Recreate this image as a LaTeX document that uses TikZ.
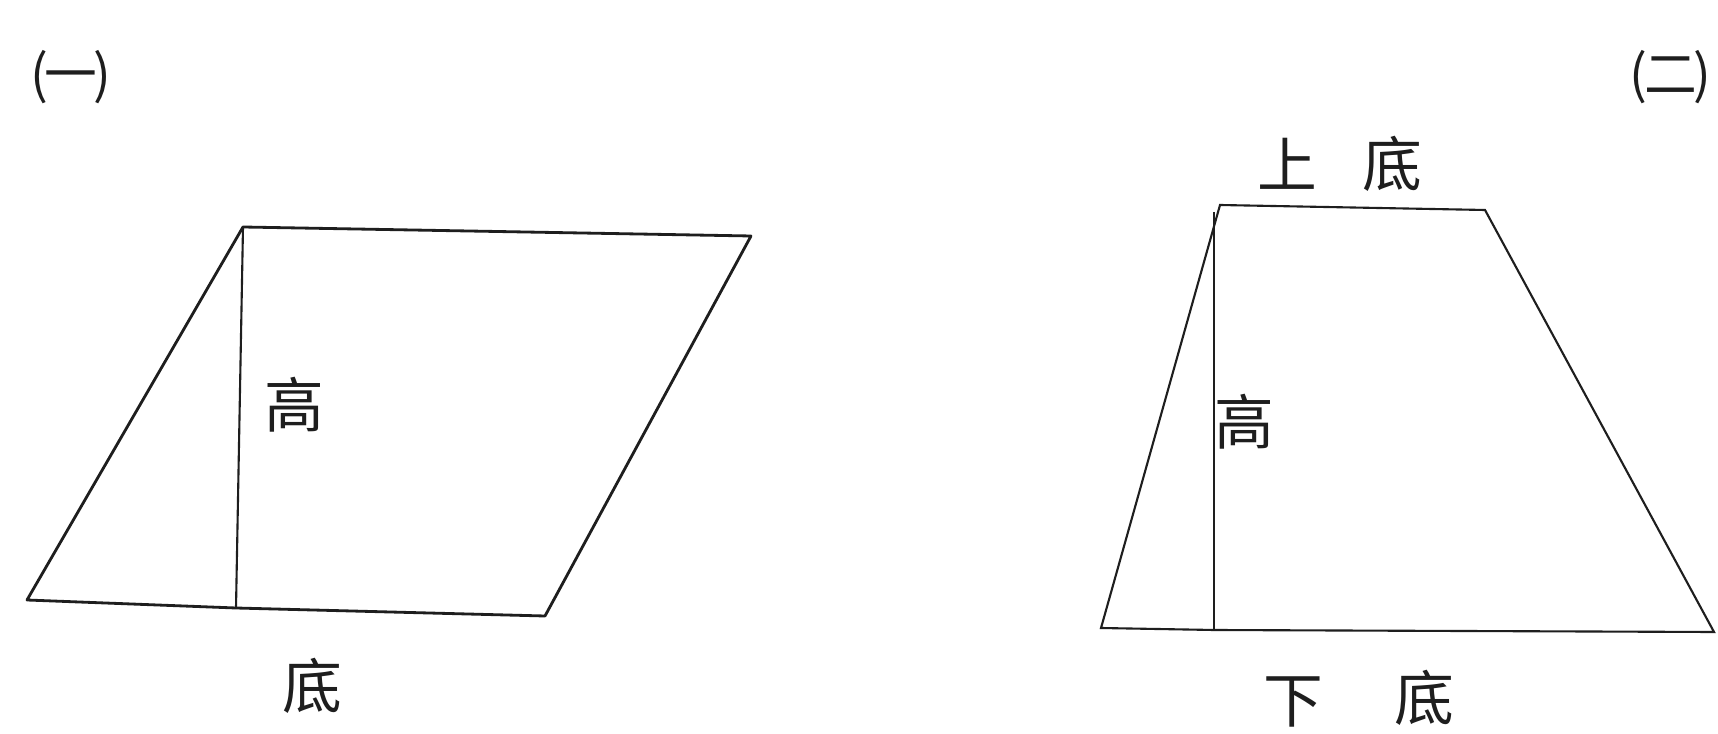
\documentclass[tikz,border=0pt]{standalone}
\usepackage{fontspec}
\usepackage{xcolor}
\usetikzlibrary{positioning}
\newfontfamily\cjk{Noto Sans CJK SC}
\definecolor{ink}{RGB}{30,30,30}

\begin{document}
\begin{tikzpicture}[
    edge/.style={draw=ink, line width=0.8pt, line join=round},
    thin/.style={draw=ink, line width=0.6pt},
    lab/.style={font=\cjk\fontsize{17}{20}\selectfont, text=ink, inner sep=0pt},
    num/.style={font=\cjk\fontsize{15}{18}\selectfont, text=ink, inner sep=0pt}
  ]
  \useasboundingbox (0,0) rectangle (17.18,-7.34);
  \fill[white] (0,0) rectangle (17.18,-7.34);
  \coordinate (pA) at (0.27,-6.00);
  \coordinate (pB) at (5.45,-6.16);
  \coordinate (pC) at (7.51,-2.36);
  \coordinate (pD) at (2.43,-2.27);
  \coordinate (pH) at (2.36,-6.08);
  \draw[edge] (pA) -- (pH) -- (pB) -- (pC) -- (pD) -- cycle;
  \draw[thin] (pD) -- (pH);
  \node[num] (n1) at (0.71,-0.77) {(\kern-1pt一\kern-1pt)};
  \node[lab] (h1) at (2.94,-4.05) {高};
  \node[lab] (b1) at (3.12,-6.86) {底};
  \coordinate (tA) at (11.01,-6.28);
  \coordinate (tB) at (17.14,-6.32);
  \coordinate (tC) at (14.85,-2.10);
  \coordinate (tD) at (12.20,-2.05);
  \coordinate (tE) at (12.14,-2.12);
  \coordinate (tH) at (12.14,-6.30);
  \draw[thin] (tA) -- (tH) -- (tB) -- (tC) -- (tD) -- cycle;
  \draw[thin] (tE) -- (tH);
  \node[num, anchor=east] (n2) at (17.12,-0.77) {(\kern-1pt二\kern-1pt)};
  \node[lab] (u2) at (12.87,-1.64) {上};
  \node[lab] (d2) at (13.92,-1.64) {底};
  \node[lab] (h2) at (12.44,-4.22) {高};
  \node[lab] (x2) at (12.93,-7.02) {下};
  \node[lab] (e2) at (14.24,-6.98) {底};
\end{tikzpicture}
\end{document}
